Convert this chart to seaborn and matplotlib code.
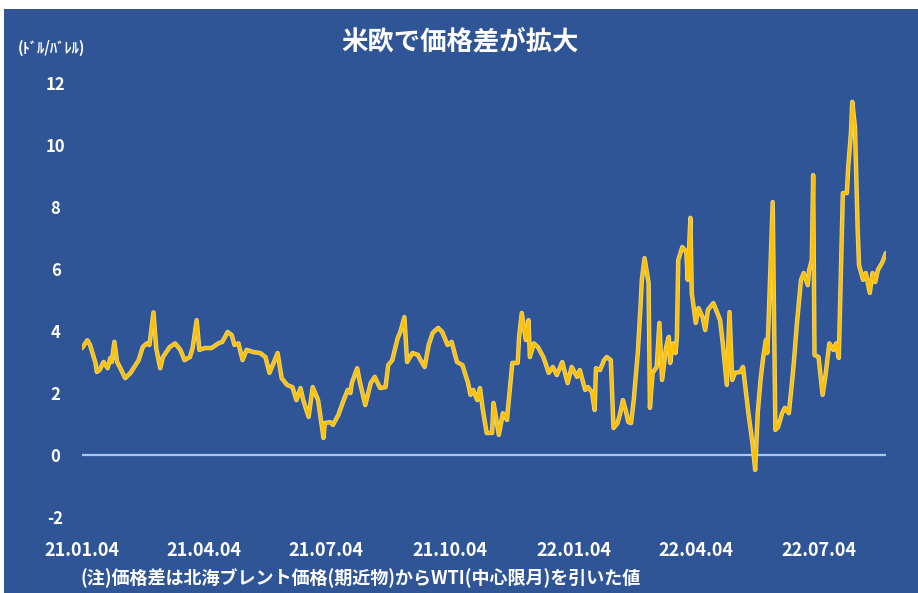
import matplotlib
matplotlib.use("Agg")
import matplotlib.pyplot as plt
import matplotlib.patheffects as pe
from matplotlib.patches import Rectangle
import pandas as pd
import seaborn as sns

# ---- data ----
start_date = "2021-01-04"
days_since_start = [
    0, 4, 6, 10, 11, 13, 16, 19, 21, 22, 24, 26, 28, 32, 36, 42, 45, 48, 50, 53,
    55, 58, 60, 65, 69, 73, 76, 80, 82, 85, 87, 91, 96, 101, 104, 108, 111, 113, 116, 119,
    122, 127, 132, 136, 139, 145, 148, 152, 156, 159, 162, 164, 168, 171, 175, 179, 180, 184, 186, 190,
    194, 197, 199, 200, 204, 206, 210, 214, 217, 221, 225, 227, 230, 234, 236, 239, 241, 245, 249, 251,
    254, 257, 260, 264, 267, 271, 274, 278, 282, 286, 288, 290, 293, 295, 297, 300, 304, 305, 306, 309,
    312, 314, 315, 319, 323, 324, 326, 329, 331, 332, 335, 338, 342, 346, 349, 352, 356, 360, 363, 367,
    369, 373, 375, 378, 380, 381, 384, 387, 389, 392, 394, 397, 399, 401, 403, 405, 407, 409, 412, 414,
    415, 417, 420, 421, 423, 426, 428, 430, 433, 435, 436, 438, 440, 441, 442, 445, 448, 449, 451, 452,
    455, 457, 460, 462, 464, 468, 471, 473, 475, 478, 480, 482, 484, 488, 490, 494, 497, 499, 501, 503,
    505, 507, 508, 509, 512, 514, 516, 519, 521, 524, 527, 528, 530, 533, 535, 538, 539, 541, 542, 543,
    546, 549, 551, 554, 557, 559, 561, 564, 567, 568, 570, 571, 573, 575, 576, 579, 581, 584, 586, 588,
    590, 593, 596,
]
spread = [
    3.45, 3.7, 3.55, 2.97, 2.68, 2.74, 3.0, 2.8, 3.13, 3.0, 3.65, 3.0, 2.84, 2.48, 2.65, 3.06, 3.48, 3.6, 3.55, 4.6,
    3.45, 2.8, 3.16, 3.48, 3.6, 3.39, 3.06, 3.16, 3.45, 4.35, 3.39, 3.45, 3.45, 3.6, 3.65, 3.97, 3.87, 3.55, 3.6, 3.06,
    3.39, 3.32, 3.29, 3.16, 2.65, 3.29, 2.48, 2.26, 2.19, 1.77, 2.16, 1.77, 1.23, 2.19, 1.77, 0.55, 1.03, 1.06, 0.97, 1.29,
    1.77, 2.1, 2.0, 2.32, 2.8, 2.35, 1.61, 2.32, 2.52, 2.16, 2.19, 2.9, 3.06, 3.77, 3.97, 4.45, 3.0, 3.29, 3.23, 3.06,
    2.84, 3.55, 3.94, 4.1, 3.97, 3.55, 3.65, 3.0, 2.9, 2.35, 1.94, 2.1, 1.77, 2.16, 1.5, 0.71, 0.71, 1.68, 1.45, 0.65,
    1.35, 1.23, 1.13, 2.97, 2.97, 3.8, 4.58, 3.71, 4.35, 3.16, 3.6, 3.48, 3.16, 2.65, 2.84, 2.58, 3.0, 2.32, 2.84, 2.52,
    2.74, 2.1, 2.19, 2.03, 1.45, 2.8, 2.74, 3.06, 3.16, 3.06, 0.87, 1.03, 1.35, 1.77, 1.45, 1.06, 1.03, 1.77, 3.29, 4.77,
    5.65, 6.35, 5.55, 1.52, 2.65, 2.84, 4.26, 2.42, 3.48, 3.81, 2.97, 3.6, 3.29, 3.81, 6.29, 6.71, 6.55, 5.65, 7.65, 5.23,
    4.26, 4.74, 4.45, 4.03, 4.68, 4.9, 4.58, 4.35, 3.6, 2.26, 4.61, 2.42, 2.65, 2.68, 2.84, 1.35, 0.39, -0.48, 1.4, 2.42,
    3.16, 3.71, 3.29, 4.35, 8.16, 0.81, 0.9, 1.35, 1.52, 1.35, 2.65, 3.16, 4.26, 5.65, 5.87, 5.48, 5.97, 6.29, 9.03, 3.23,
    3.16, 1.94, 2.52, 3.6, 3.39, 3.6, 3.13, 8.45, 8.45, 9.29, 10.39, 11.39, 10.58, 7.26, 6.13, 5.65, 5.87, 5.23, 5.87, 5.58,
    5.97, 6.19, 6.52,
]
tick_dates = ["2021-01-04", "2021-04-04", "2021-07-04", "2021-10-04",
              "2022-01-04", "2022-04-04", "2022-07-04"]
y_ticks = [-2, 0, 2, 4, 6, 8, 10, 12]
title = "米欧で価格差が拡大"
unit_label = "(ﾄﾞﾙ/ﾊﾞﾚﾙ)"
note = "(注)価格差は北海ブレント価格(期近物)からWTI(中心限月)を引いた値"

# ---- build frame ----
dates = pd.to_datetime(start_date) + pd.to_timedelta(days_since_start, unit="D")
df = pd.DataFrame({"date": dates, "spread": spread})

BG = "#2F5597"
GOLD = "#FFC000"

sns.set_theme(style="white")
plt.rcParams["font.family"] = ["Noto Sans CJK JP", "DejaVu Sans"]

fig = plt.figure(figsize=(9.18, 5.93), dpi=100, facecolor=BG)
ax = fig.add_axes([82 / 918, (593 - 517) / 593, (886 - 82) / 918, (517 - 83) / 593])
ax.set_facecolor(BG)

# white margins of the screenshot
fig.patches.append(Rectangle((0, 1 - 9 / 593), 1, 9 / 593, transform=fig.transFigure,
                             facecolor="white", edgecolor="none", zorder=0))
fig.patches.append(Rectangle((0, 0), 4 / 918, 1, transform=fig.transFigure,
                             facecolor="white", edgecolor="none", zorder=0))

ax.axhline(0, color="#A9C8EC", lw=1.6, zorder=1)
sns.lineplot(data=df, x="date", y="spread", ax=ax, color=GOLD, lw=1.9, zorder=3,
             path_effects=[pe.Stroke(linewidth=3.2, foreground="#E8D68A"), pe.Normal()])

ax.set_xlim(df["date"].iloc[0], df["date"].iloc[-1])
ax.set_ylim(-2, 12)
ax.set_xlabel("")
ax.set_ylabel("")
for s in ax.spines.values():
    s.set_visible(False)

ax.set_yticks(y_ticks)
ax.set_yticklabels([str(v) for v in y_ticks])
ax.tick_params(axis="y", length=0, pad=19, labelsize=12, labelcolor="white")
for lab in ax.get_yticklabels():
    lab.set_ha("center")
    lab.set_fontweight("bold")

tdates = pd.to_datetime(tick_dates)
ax.set_xticks(tdates)
ax.set_xticklabels([d.strftime("%y.%m.%d") for d in tdates])
ax.tick_params(axis="x", length=0, pad=17, labelsize=13, labelcolor="white")
for lab in ax.get_xticklabels():
    lab.set_fontweight("bold")
ax.grid(False)

fig.text(460 / 918, 1 - 42 / 593, title, ha="center", va="center",
         color="white", fontsize=19, fontweight="bold")
fig.text(18 / 918, 1 - 48 / 593, unit_label, ha="left", va="center",
         color="white", fontsize=10.5, fontweight="bold")
fig.text(80 / 918, 1 - 578 / 593, note, ha="left", va="center",
         color="white", fontsize=13, fontweight="bold")

fig.savefig("out.png", dpi=100, facecolor=BG)
